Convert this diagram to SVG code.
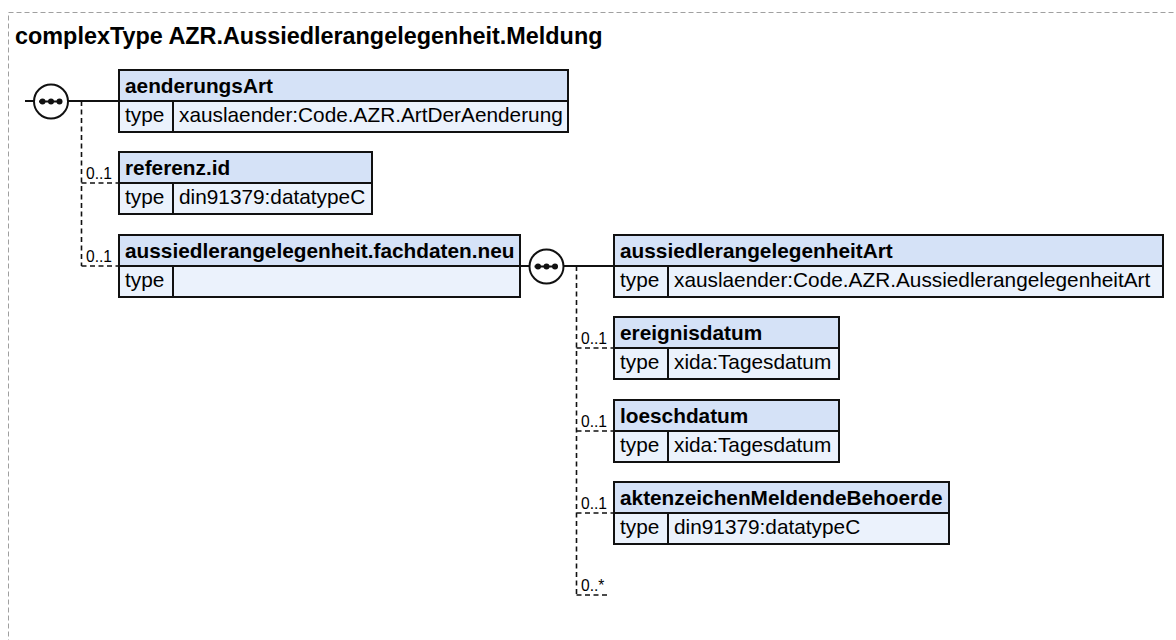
<svg xmlns="http://www.w3.org/2000/svg" width="1176" height="640" viewBox="0 0 1176 640">
<style>
text{font-family:"Liberation Sans",Arial,sans-serif;fill:#000}
.title{font-size:23.4px;font-weight:bold}
.name{font-size:20.8px;font-weight:bold}
.val{font-size:20.8px}
.occ{font-size:15.6px}
.hdr{fill:#d5e2f7;stroke:#111;stroke-width:2}
.row{fill:#ebf2fc;stroke:#111;stroke-width:2}
.ln{stroke:#111;stroke-width:2;fill:none}
.sol{stroke:#111;stroke-width:2;fill:none}
.dash{stroke:#111;stroke-width:1.6;fill:none;stroke-dasharray:5,3.5}
.seq{fill:#fff;stroke:#111;stroke-width:2}
.dot{fill:#111}
</style>
<rect x="8.5" y="12.5" width="1240" height="700" fill="none" stroke="#a0a0a0" stroke-width="1" stroke-dasharray="5,3"/>
<text class="title" x="15" y="44">complexType AZR.Aussiedlerangelegenheit.Meldung</text>

<g id="connectors">
<path class="sol" d="M25 101H34M68 101H119"/>
<path class="dash" d="M81.5 101V266M81.5 183H119M81.5 266H119"/>
<path class="sol" d="M520 266H529.5M563.5 266H614"/>
<path class="dash" d="M576.5 266V595M576.5 348H614M576.5 431H614M576.5 513H614M576.5 595H608"/>
<text class="occ" x="86" y="179">0..1</text>
<text class="occ" x="86" y="262">0..1</text>
<text class="occ" x="581" y="344">0..1</text>
<text class="occ" x="581" y="427">0..1</text>
<text class="occ" x="581" y="509">0..1</text>
<text class="occ" x="581" y="591">0..*</text>
</g>

<g id="seq1">
<circle class="seq" cx="51" cy="101.5" r="17"/>
<path class="ln" d="M39 101.5H62" stroke-width="1.5"/>
<circle class="dot" cx="42.5" cy="101.5" r="3"/><circle class="dot" cx="51" cy="101.5" r="3"/><circle class="dot" cx="59.5" cy="101.5" r="3"/>
</g>
<g id="seq2">
<circle class="seq" cx="546.5" cy="266.5" r="17"/>
<path class="ln" d="M534.5 266.5H557.5" stroke-width="1.5"/>
<circle class="dot" cx="538" cy="266.5" r="3"/><circle class="dot" cx="546.5" cy="266.5" r="3"/><circle class="dot" cx="555" cy="266.5" r="3"/>
</g>

<g id="aenderungsArt">
<rect class="hdr" x="119" y="70" width="449" height="31"/>
<rect class="row" x="119" y="101" width="449" height="31"/>
<path class="ln" d="M173 101V132"/>
<text class="name" x="125" y="93">aenderungsArt</text>
<text class="val" x="125" y="122">type</text>
<text class="val" x="179" y="122">xauslaender:Code.AZR.ArtDerAenderung</text>
</g>

<g id="referenz.id">
<rect class="hdr" x="119" y="152" width="253" height="31"/>
<rect class="row" x="119" y="183" width="253" height="31"/>
<path class="ln" d="M173 183V214"/>
<text class="name" x="125" y="175">referenz.id</text>
<text class="val" x="125" y="204">type</text>
<text class="val" x="179" y="204">din91379:datatypeC</text>
</g>

<g id="fachdaten.neu">
<rect class="hdr" x="119" y="235" width="401" height="31"/>
<rect class="row" x="119" y="266" width="401" height="31"/>
<path class="ln" d="M173 266V297"/>
<text class="name" x="125" y="258">aussiedlerangelegenheit.fachdaten.neu</text>
<text class="val" x="125" y="287">type</text>
</g>

<g id="aussiedlerangelegenheitArt">
<rect class="hdr" x="614" y="235" width="549" height="31"/>
<rect class="row" x="614" y="266" width="549" height="31"/>
<path class="ln" d="M668 266V297"/>
<text class="name" x="620" y="258">aussiedlerangelegenheitArt</text>
<text class="val" x="620" y="287">type</text>
<text class="val" x="674" y="287">xauslaender:Code.AZR.AussiedlerangelegenheitArt</text>
</g>

<g id="ereignisdatum">
<rect class="hdr" x="614" y="317" width="225" height="31"/>
<rect class="row" x="614" y="348" width="225" height="31"/>
<path class="ln" d="M668 348V379"/>
<text class="name" x="620" y="340">ereignisdatum</text>
<text class="val" x="620" y="369">type</text>
<text class="val" x="674" y="369">xida:Tagesdatum</text>
</g>

<g id="loeschdatum">
<rect class="hdr" x="614" y="400" width="225" height="31"/>
<rect class="row" x="614" y="431" width="225" height="31"/>
<path class="ln" d="M668 431V462"/>
<text class="name" x="620" y="423">loeschdatum</text>
<text class="val" x="620" y="452">type</text>
<text class="val" x="674" y="452">xida:Tagesdatum</text>
</g>

<g id="aktenzeichenMeldendeBehoerde">
<rect class="hdr" x="614" y="482" width="335" height="31"/>
<rect class="row" x="614" y="513" width="335" height="31"/>
<path class="ln" d="M668 513V544"/>
<text class="name" x="620" y="505">aktenzeichenMeldendeBehoerde</text>
<text class="val" x="620" y="534">type</text>
<text class="val" x="674" y="534">din91379:datatypeC</text>
</g>
</svg>
